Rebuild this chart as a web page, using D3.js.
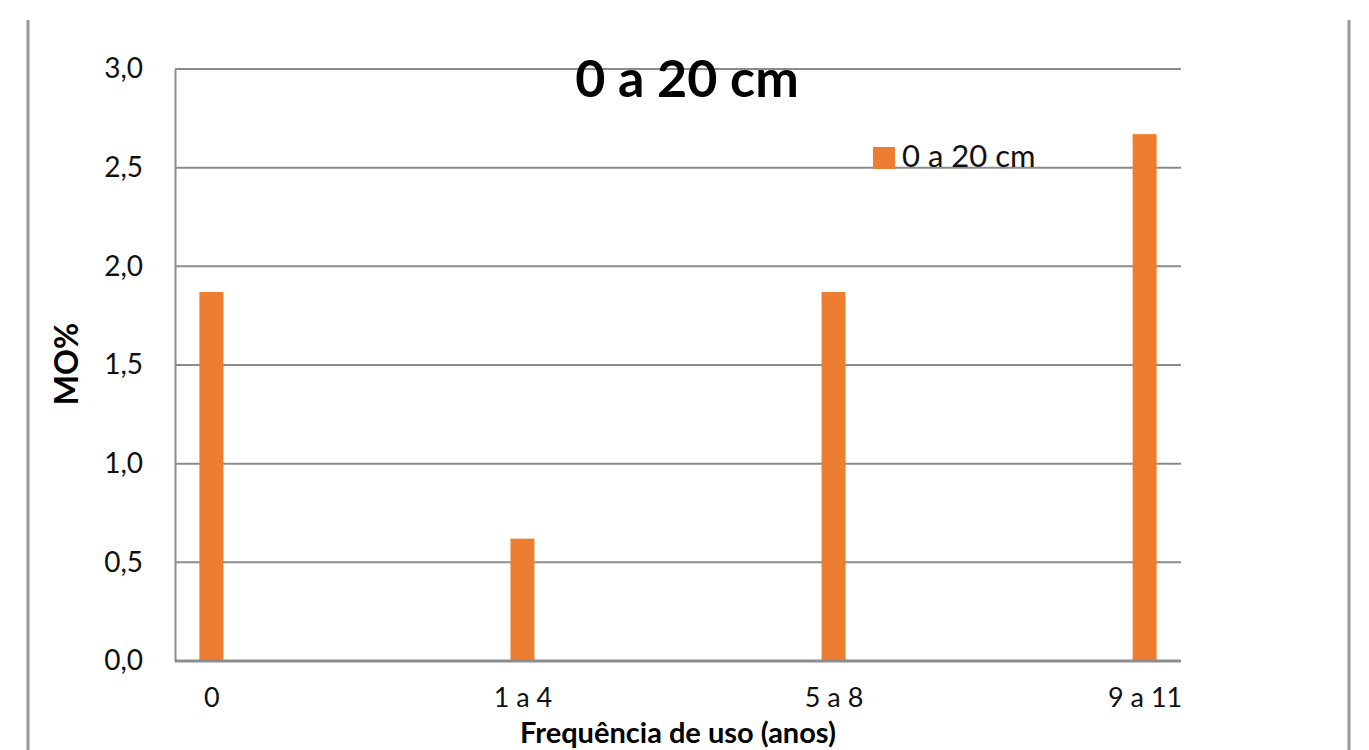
<!DOCTYPE html>
<html>
<head>
<meta charset="utf-8">
<script src="https://cdn.jsdelivr.net/npm/d3@7"></script>
<style>
  body { margin: 0; background: #fff; }
  svg text { font-family: Lato, "Open Sans", sans-serif; }
</style>
</head>
<body>
<div id="chart"></div>
<script>
// dados
const categorias = ["0", "1 a 4", "5 a 8", "9 a 11"];
const valores = [1.87, 0.62, 1.87, 2.67];
const yTicks = [0, 0.5, 1, 1.5, 2, 2.5, 3];
const serie = "0 a 20 cm";

const W = 1369, H = 750;
const margin = {top: 69, right: 188, bottom: 89, left: 175},
    width = W - margin.left - margin.right,
    height = H - margin.top - margin.bottom;

const svg = d3.select("#chart").append("svg")
    .attr("width", W).attr("height", H);

// moldura do grafico (bordas laterais)
svg.append("line").attr("x1", 28).attr("x2", 28).attr("y1", 20).attr("y2", H)
    .attr("stroke", "#999").attr("stroke-width", 3);
svg.append("line").attr("x1", 1349).attr("x2", 1349).attr("y1", 20).attr("y2", H)
    .attr("stroke", "#999").attr("stroke-width", 3);

const g = svg.append("g").attr("transform", `translate(${margin.left},${margin.top})`);

const x = d3.scalePoint().domain(categorias).range([0, width]).padding(0.117);
const y = d3.scaleLinear().domain([0, 3]).range([height, 0]);

const fmt = d => d3.format(".1f")(d).replace(".", ",");

// linhas de grade
g.selectAll(".grid").data(yTicks).join("line")
    .attr("x1", 0).attr("x2", width)
    .attr("y1", d => y(d)).attr("y2", d => y(d))
    .attr("stroke", "#8c8c8c").attr("stroke-width", 2);

// eixo y
const yAxis = g.append("g").call(d3.axisLeft(y).tickValues(yTicks).tickFormat(fmt).tickSize(0).tickPadding(32));
yAxis.select(".domain").attr("stroke", "#8c8c8c").attr("stroke-width", 2);
yAxis.selectAll("text").style("font-size", "28px").attr("fill", "#111");

// barras
g.selectAll(".bar").data(valores).join("rect")
    .attr("x", (d, i) => x(categorias[i]) - 12)
    .attr("width", 24)
    .attr("y", d => y(d))
    .attr("height", d => height - y(d))
    .attr("fill", "#ED7D31");

// eixo x
const xAxis = g.append("g").attr("transform", `translate(0,${height})`)
    .call(d3.axisBottom(x).tickSize(0).tickPadding(27));
xAxis.select(".domain").remove();
xAxis.selectAll("text").style("font-size", "27px").attr("fill", "#111");
g.append("line").attr("x1", 0).attr("x2", width).attr("y1", height).attr("y2", height)
    .attr("stroke", "#8c8c8c").attr("stroke-width", 3);

// titulo
svg.append("text").attr("x", 687).attr("y", 97)
    .attr("text-anchor", "middle").style("font-size", "52px").style("font-weight", "bold")
    .text(serie);

// titulos dos eixos
svg.append("text").attr("x", margin.left + width / 2).attr("y", 743)
    .attr("text-anchor", "middle").style("font-size", "29px").style("font-weight", "bold")
    .text("Frequência de uso (anos)");
svg.append("text").attr("transform", "translate(78,364) rotate(-90)")
    .attr("text-anchor", "middle").style("font-size", "32px").style("font-weight", "bold")
    .text("MO%");

// legenda
const leg = svg.append("g").attr("transform", "translate(873,147)");
leg.append("rect").attr("width", 22).attr("height", 22).attr("fill", "#ED7D31");
leg.append("text").attr("x", 29).attr("y", 20).style("font-size", "31px").attr("fill", "#111")
    .text(serie);
</script>
</body>
</html>
